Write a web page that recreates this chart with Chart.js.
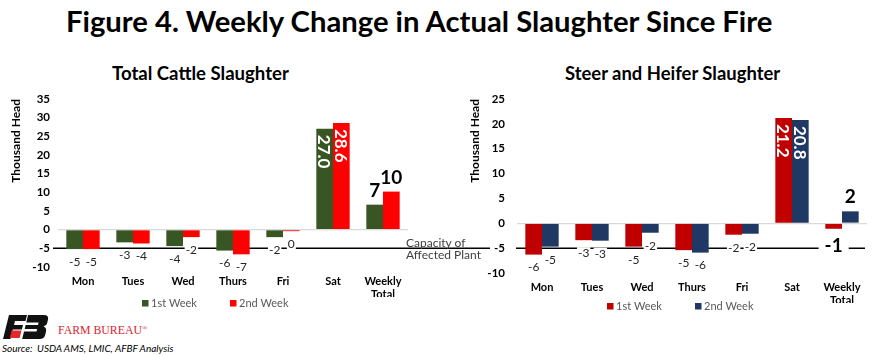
<!DOCTYPE html>
<html><head><meta charset="utf-8">
<script src="https://cdn.jsdelivr.net/npm/chart.js@4/dist/chart.umd.min.js"></script>
<style>
html,body{margin:0;padding:0;background:#fff;}
#wrap{position:relative;width:873px;height:355px;overflow:hidden;font-family:Lato,sans-serif;background:#fff;}
.abs{position:absolute;white-space:nowrap;line-height:1;}
canvas{position:absolute;}
#cap{font-size:12px;line-height:12px;color:#404040;left:406px;top:237px;}
</style></head><body>
<div id="wrap">
  <div id="title" class="abs">Figure 4. Weekly Change in Actual Slaughter Since Fire</div>
  <div id="st1" class="abs">Total Cattle Slaughter</div>
  <div id="st2" class="abs">Steer and Heifer Slaughter</div>
  <canvas id="c1" width="440" height="250" style="left:0;top:60px"></canvas>
  <canvas id="c2" width="433" height="250" style="left:440px;top:60px"></canvas>
  <div id="cap" class="abs">Capacity of<br>Affected Plant</div>
  <svg class="abs" style="left:3px;top:315px" width="46" height="24" viewBox="0 0 46 24">
    <path d="M6,0 L24,0 L22.5,6 L12,6 L11,10 L20,10 L18.8,14.5 L9.8,14.5 L7.5,24 L0,24 Z" fill="#111"/>
    <path d="M8.6,15.5 L18.5,15.5 L16.6,23 L6.8,23 Z" fill="#e3262d"/>
    <path d="M25,0 L41,0 Q46,0 45,4.5 L44.2,8 Q43.5,11 40.5,11.5 Q43.8,12.5 43,16.5 L42.3,19.5 Q41.3,24 36.5,24 L19.2,24 L21,16.5 L33.5,16.5 L34.2,14 L21.7,14 L22.6,10 L35,10 L35.6,7.5 L23.3,7.5 Z" fill="#111"/>
  </svg>
  <div id="fb" class="abs" style="color:#d7262b;font-family:'Liberation Serif',serif;">FARM BUREAU<span style="font-size:7px;vertical-align:top;">®</span></div>
  <div id="src" class="abs" style="font-style:italic;color:#000;">Source:&nbsp; USDA AMS, LMIC, AFBF Analysis</div>
</div>
<script>
// ---------------- DATA ----------------
const categories = ['Mon', 'Tues', 'Wed', 'Thurs', 'Fri', 'Sat', ['Weekly', 'Total']];
const seriesNames = ['1st Week', '2nd Week'];
// Total Cattle Slaughter (thousand head)
const totalWeek1 = [-5.2, -3.4, -4.4, -5.6, -2.0, 27.0, 6.7];
const totalWeek2 = [-5.2, -3.7, -2.0, -6.6, -0.4, 28.6, 10.2];
// Steer and Heifer Slaughter (thousand head)
const steerWeek1 = [-6.3, -3.4, -4.7, -5.4, -2.3, 21.2, -1.1];
const steerWeek2 = [-4.7, -3.5, -1.9, -5.9, -2.1, 20.8, 2.4];
// Axis ticks
const totalTicks = [-10, -5, 0, 5, 10, 15, 20, 25, 30, 35];
const steerTicks = [-10, -5, 0, 5, 10, 15, 20, 25];
// Capacity of affected plant reference level
const capacityLevel = -5;
const capacityLabel = ['Capacity of', 'Affected Plant'];

// ---------------- TEXT PLACEMENT ----------------
const mctx = document.createElement('canvas').getContext('2d');
function place(id, weight, style, family, targetW, cx, cy, left) {
  const el = document.getElementById(id);
  mctx.font = `${style} ${weight} 100px ${family}`;
  const w = mctx.measureText(el.textContent.replace('®','')).width;
  const size = 100 * targetW / w;
  el.style.fontSize = size + 'px';
  el.style.fontWeight = weight;
  el.style.fontStyle = style;
  const x = left !== undefined ? left : cx - targetW / 2;
  el.style.left = x + 'px';
  el.style.top = (cy - 0.55 * size) + 'px';
}
place('title', 'bold', 'normal', 'Lato', 709, 420.5, 22);
place('st1', 'bold', 'normal', 'Lato', 177, 200.5, 74);
place('st2', 'bold', 'normal', 'Lato', 216, 673, 74);
place('fb', 'normal', 'normal', "'Liberation Serif'", 84, 0, 331, 58);
place('src', 'normal', 'italic', 'Lato', 173, 0, 348, 2);
document.getElementById('cap').innerHTML = capacityLabel.join('<br>');

// ---------------- CHARTS ----------------
function customPlugin(cfg) {
  return {
    id: 'custom_' + cfg.id,
    beforeDatasetsDraw(chart) {
      const ctx = chart.ctx;
      const y = chart.scales.y.getPixelForValue(capacityLevel);
      ctx.save();
      ctx.strokeStyle = '#000';
      ctx.lineWidth = 1.5;
      cfg.lineSegs.forEach(([a, b]) => {
        ctx.beginPath(); ctx.moveTo(a, y); ctx.lineTo(b, y); ctx.stroke();
      });
      ctx.restore();
    },
    afterDatasetsDraw(chart) {
      const ctx = chart.ctx;
      chart.data.datasets.forEach((ds, di) => {
        const meta = chart.getDatasetMeta(di);
        const lastIdx = ds.data.length - 1, satIdx = lastIdx - 1;
        meta.data.forEach((bar, i) => {
          const v = ds.data[i];
          ctx.save();
          if (i === satIdx) {
            ctx.translate(bar.x, bar.y + 6);
            ctx.rotate(Math.PI / 2);
            ctx.font = 'bold 17px Lato';
            ctx.fillStyle = '#fff';
            ctx.textAlign = 'left';
            ctx.textBaseline = 'middle';
            ctx.fillText(v.toFixed(1), 0, 1);
          } else {
            const txt = String(Math.round(v));
            const big = i === lastIdx;
            ctx.font = big ? 'bold 19px Lato' : '12px Lato';
            const cy = v >= 0 ? bar.y - (big ? 15 : 12) : bar.y + (big ? 16 : 12.5);
            const w = ctx.measureText(txt).width;
            if (v < 0) {
              ctx.fillStyle = '#fff';
              const pad = big ? 6 : 1;
              const h = big ? 16 : 11;
              ctx.fillRect(bar.x - w / 2 - pad, cy - h / 2, w + pad * 2, h);
            }
            ctx.fillStyle = big ? '#000' : '#262626';
            ctx.textAlign = 'center';
            ctx.textBaseline = 'middle';
            ctx.fillText(txt, bar.x, cy + (big ? 1 : 0.5));
          }
          ctx.restore();
        });
      });
    },
    afterDraw(chart) {
      const ctx = chart.ctx;
      ctx.save();
      chart.data.datasets.forEach((ds, di) => {
        const x = cfg.legendX[di], y = cfg.legendY;
        ctx.fillStyle = ds.backgroundColor;
        ctx.fillRect(x, y - 3, 6.5, 6.5);
        ctx.font = '11px Lato';
        ctx.fillStyle = '#595959';
        ctx.textAlign = 'left';
        ctx.textBaseline = 'middle';
        ctx.fillText(ds.label, x + 9, y + 0.5);
      });
      ctx.restore();
    }
  };
}

function buildChart(cfg) {
  const ticks = cfg.ticks;
  return new Chart(document.getElementById(cfg.id), {
    type: 'bar',
    data: {
      labels: categories,
      datasets: [
        { label: seriesNames[0], data: cfg.w1, backgroundColor: cfg.colors[0] },
        { label: seriesNames[1], data: cfg.w2, backgroundColor: cfg.colors[1] }
      ]
    },
    options: {
      responsive: false,
      animation: false,
      devicePixelRatio: 1,
      categoryPercentage: 0.667,
      barPercentage: 1.0,
      layout: { padding: { top: 39, left: 0, right: cfg.padRight, bottom: cfg.padBottom } },
      plugins: { legend: { display: false }, title: { display: false }, tooltip: { enabled: false } },
      scales: {
        x: {
          grid: { display: false, drawTicks: false },
          border: { display: false },
          ticks: {
            color: '#000', font: { family: 'Lato', size: 11, weight: 'bold' },
            padding: cfg.xPad, maxRotation: 0, autoSkip: false
          },
          afterFit: s => { s.height = 30; }
        },
        y: {
          min: ticks[0], max: ticks[ticks.length - 1],
          grid: {
            drawTicks: false,
            color: c => (c.tick && c.tick.value === 0 ? '#d9d9d9' : 'rgba(0,0,0,0)'),
            lineWidth: 1.3
          },
          border: { display: false },
          ticks: {
            stepSize: ticks[1] - ticks[0],
            color: '#000', font: { family: 'Lato', size: 11.5, weight: 'bold' },
            padding: cfg.yPad
          },
          title: {
            display: true, text: 'Thousand Head', align: 'end',
            color: '#000', font: { family: 'Lato', size: 12, weight: 'bold' },
            padding: { top: cfg.titlePad, bottom: 0 }
          },
          afterFit: s => { s.width = cfg.axisW; }
        }
      }
    },
    plugins: [customPlugin(cfg)]
  });
}

buildChart({
  id: 'c1', w1: totalWeek1, w2: totalWeek2, colors: ['#375623', '#FF0000'], ticks: totalTicks,
  padRight: 32, padBottom: 13, axisW: 58, yPad: 8, xPad: 8, titlePad: 9,
  lineSegs: [[53, 440]], legendX: [142, 230], legendY: 243
});
buildChart({
  id: 'c2', w1: steerWeek1, w2: steerWeek2, colors: ['#C00000', '#203864'], ticks: steerTicks,
  padRight: 6, padBottom: 7, axisW: 77, yPad: 12, xPad: 8, titlePad: 28,
  lineSegs: [[0, 50], [76, 425]], legendX: [167, 255], legendY: 246
});
</script>
</body></html>
